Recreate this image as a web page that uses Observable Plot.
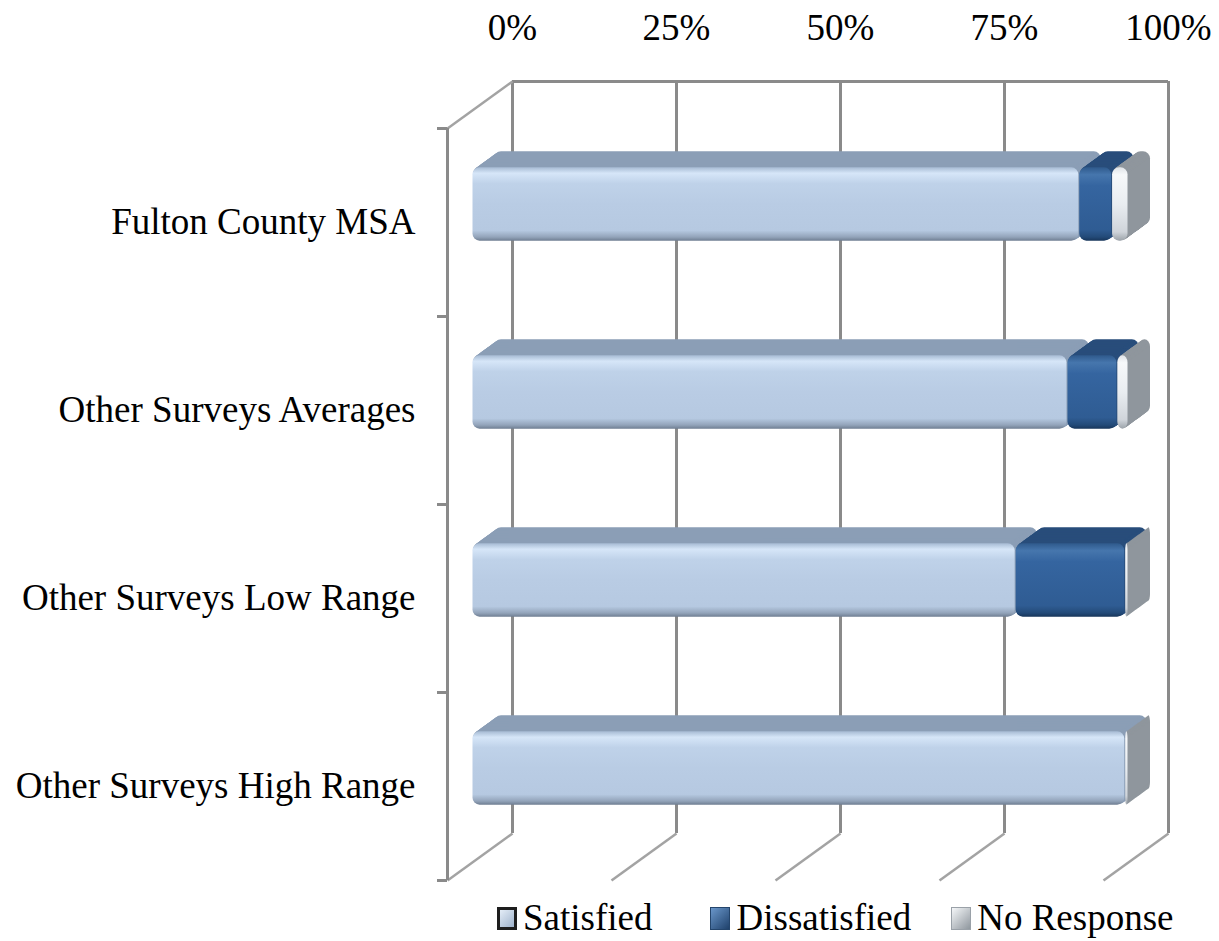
<!DOCTYPE html>
<html><head><meta charset="utf-8">
<script src="https://cdn.jsdelivr.net/npm/d3@7"></script>
<script src="https://cdn.jsdelivr.net/npm/@observablehq/plot@0.6"></script>
<style>
body{margin:0;background:#fff;font-family:"Liberation Serif","Times New Roman",serif;}
#legend{display:flex;align-items:center;height:46px;padding-left:497px;font-size:37px;color:#000;line-height:46px;white-space:nowrap;overflow:visible}
.item{display:flex;align-items:center;flex-shrink:0}
.sw{width:20px;height:23px;margin-right:6px;box-sizing:border-box;flex-shrink:0}
</style></head><body><div id="chart"></div><div id="legend"></div>
<script>
// ---- data ----
const categories = ["Fulton County MSA", "Other Surveys Averages", "Other Surveys Low Range", "Other Surveys High Range"];
const seriesNames = ["Satisfied", "Dissatisfied", "No Response"];
const satisfied = [92.5, 90.7, 82.8, 99.5];
const dissatisfied = [5.0, 7.6, 16.7, 0];
const noResponse = [2.5, 1.7, 0.5, 0.5];
const xTicks = [0, 25, 50, 75, 100];
const xTickLabels = ["0%", "25%", "50%", "75%", "100%"];

// ---- layout / style ----
const W = 1219, H = 895, mL = 472, mR = 91, mT = 110, mB = 33;
const FONT = "'Liberation Serif', 'Times New Roman', serif";
const FS = 37;
const kx = (W - mL - mR) / 100;
const ky = (H - mT - mB) / categories.length;
const BACK = {dx: 40, dy: -29}, FRONT = {dx: -25, dy: 18}, DEPTH = {dx: 22, dy: -16};
const half = 0.195;
const gridColor = "#8a8a8a";
const yDomain = [-0.5, categories.length - 0.5];

const seriesValues = [satisfied, dissatisfied, noResponse];
const segs = [];
categories.forEach((c, i) => {
  let acc = 0;
  seriesValues.forEach((vals, s) => {
    const v = vals[i];
    if (v > 0) segs.push({cat: c, i, s, x1: acc, x2: acc + v});
    acc += v;
  });
});

const extrColors = ["#8b9eb6", "#284d7b", "#8f969d"];
const gradIds = ["gSat", "gDis", "gNr"];

const ox = px => px / kx, oy = py => py / ky;
const floor = xTicks.map(t => ({
  x1: t + ox(BACK.dx), y1: yDomain[1] + oy(BACK.dy),
  x2: t + ox(FRONT.dx), y2: yDomain[1] + oy(FRONT.dy)
}));
const leftTop = [{
  x1: xTicks[0] + ox(FRONT.dx), y1: yDomain[0] + oy(FRONT.dy),
  x2: xTicks[0] + ox(BACK.dx), y2: yDomain[0] + oy(BACK.dy)
}];
const bounds = d3.range(categories.length + 1).map(k => k - 0.5);

const N = 22;
const barMarks = [];
[0, 1, 2].forEach(s => {
  const data = segs.filter(d => d.s === s);
  for (let k = N; k >= 1; k--) {
    barMarks.push(Plot.rect(data, {
      x1: "x1", x2: "x2", y1: d => d.i - half, y2: d => d.i + half,
      fill: extrColors[s], rx: 7,
      dx: DEPTH.dx * k / N, dy: DEPTH.dy * k / N
    }));
  }
  barMarks.push(Plot.rect(data, {
    x1: "x1", x2: "x2", y1: d => d.i - half, y2: d => d.i + half,
    fill: `url(#${gradIds[s]})`, rx: 7, insetLeft: 0.5, insetRight: 0.5
  }));
});

const chart = Plot.plot({
  width: W, height: H,
  marginLeft: mL, marginRight: mR, marginTop: mT, marginBottom: mB,
  style: {fontFamily: FONT, fontSize: FS + "px", color: "#000", background: "#fff", overflow: "visible"},
  x: {domain: [0, 100], axis: null},
  y: {domain: yDomain, reverse: true},
  marks: [
    Plot.ruleX(xTicks, {x: d => d, dx: BACK.dx, dy: BACK.dy, stroke: gridColor, strokeWidth: 3}),
    Plot.ruleY([yDomain[0]], {x1: xTicks[0], x2: xTicks[xTicks.length - 1], dx: BACK.dx, dy: BACK.dy, stroke: gridColor, strokeWidth: 3}),
    Plot.link(floor, {x1: "x1", y1: "y1", x2: "x2", y2: "y2", stroke: "#a3a3a3", strokeWidth: 2.5}),
    Plot.link(leftTop, {x1: "x1", y1: "y1", x2: "x2", y2: "y2", stroke: "#a3a3a3", strokeWidth: 2.5}),
    Plot.ruleX([xTicks[0]], {dx: FRONT.dx, dy: FRONT.dy, stroke: gridColor, strokeWidth: 3}),
    Plot.axisY({ticks: bounds, tickSize: 10, tickFormat: () => "", dx: FRONT.dx, dy: FRONT.dy, stroke: gridColor, strokeWidth: 3}),
    ...barMarks,
    Plot.axisY({ticks: d3.range(categories.length), tickFormat: i => categories[i], tickSize: 0, tickPadding: 32,
      dx: FRONT.dx, dy: FRONT.dy, fontSize: FS, fill: "#000"}),
    Plot.text(xTicks, {x: d => d, text: (d, i) => xTickLabels[i], frameAnchor: "top",
      dx: BACK.dx, dy: -82, fontSize: FS, lineAnchor: "middle", fill: "#000"})
  ]
});

const defs = d3.select(chart).insert("defs", ":first-child");
function grad(id, stops, x2 = "0", y2 = "1") {
  const g = defs.append("linearGradient").attr("id", id).attr("x1", 0).attr("y1", 0).attr("x2", x2).attr("y2", y2);
  stops.forEach(([o, c]) => g.append("stop").attr("offset", o).attr("stop-color", c));
}
grad("gSat", [[0, "#a7bbd4"], [0.08, "#d6e6f8"], [0.22, "#bfd2e9"], [0.5, "#b9cce4"], [0.86, "#b6c9e1"], [0.95, "#93a4ba"], [1, "#6f7e92"]]);
grad("gDis", [[0, "#2f5a8c"], [0.1, "#4676ad"], [0.25, "#3565a0"], [0.85, "#2f5c93"], [0.95, "#234a78"], [1, "#17355a"]]);
grad("gNr", [[0, "#dfe3e8"], [0.1, "#f6f8fa"], [0.5, "#e9edf1"], [0.88, "#cfd4da"], [1, "#9ca3aa"]]);

document.getElementById("chart").appendChild(chart);

const swatchStyles = [
  "border:3px solid #1e1e1e;background:linear-gradient(135deg,#e4edf7,#9fb3cc)",
  "border:1px solid #24456c;background:linear-gradient(135deg,#6a97cb,#1f416b)",
  "border:1px solid #9aa1a8;background:linear-gradient(135deg,#f5f7f9,#8f979e)"
];
const gaps = [58, 40, 0];
const legend = document.getElementById("legend");
seriesNames.forEach((n, s) => {
  const it = document.createElement("div");
  it.className = "item";
  it.style.marginRight = gaps[s] + "px";
  it.innerHTML = `<span class="sw" style="${swatchStyles[s]}"></span><span>${n}</span>`;
  legend.appendChild(it);
});
</script>
</body></html>
